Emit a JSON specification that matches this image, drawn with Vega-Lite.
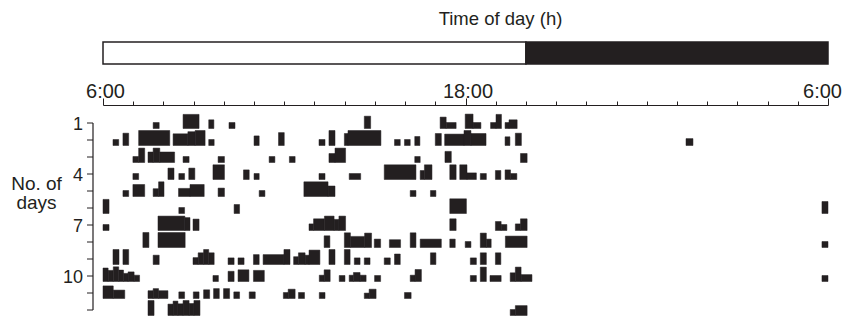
{
  "$schema": "https://vega.github.io/schema/vega-lite/v6.json",
  "padding": {"top": 9, "left": 10, "right": 2, "bottom": 0},
  "spacing": 15.5,
  "config": {
    "view": {"stroke": null},
    "font": "Liberation Sans",
    "axis": {"labelFont": "Liberation Sans", "titleFont": "Liberation Sans"}
  },
  "datasets": {
    "light": [
      {"phase": "Light", "start": 6, "end": 20},
      {"phase": "Dark", "start": 20, "end": 30}
    ],
    "activity": [
      {"day": 1, "start": 7.66, "end": 7.86, "act": 2},
      {"day": 1, "start": 8.65, "end": 9.18, "act": 4.7},
      {"day": 1, "start": 9.5, "end": 9.67, "act": 2.9},
      {"day": 1, "start": 10.17, "end": 10.37, "act": 2},
      {"day": 1, "start": 14.65, "end": 14.86, "act": 4.1},
      {"day": 1, "start": 17.16, "end": 17.36, "act": 3.8},
      {"day": 1, "start": 17.36, "end": 17.69, "act": 2},
      {"day": 1, "start": 17.99, "end": 18.25, "act": 4.8},
      {"day": 1, "start": 18.25, "end": 18.51, "act": 2},
      {"day": 1, "start": 18.83, "end": 19.01, "act": 2},
      {"day": 1, "start": 19.01, "end": 19.19, "act": 4.7},
      {"day": 1, "start": 19.31, "end": 19.44, "act": 2},
      {"day": 1, "start": 19.44, "end": 19.71, "act": 2.9},

      {"day": 2, "start": 6.33, "end": 6.52, "act": 2},
      {"day": 2, "start": 6.66, "end": 6.85, "act": 4.1},
      {"day": 2, "start": 7.18, "end": 8.21, "act": 5},
      {"day": 2, "start": 8.32, "end": 8.81, "act": 3.9},
      {"day": 2, "start": 8.81, "end": 9.05, "act": 4.6},
      {"day": 2, "start": 9.05, "end": 9.38, "act": 5},
      {"day": 2, "start": 9.5, "end": 9.68, "act": 2},
      {"day": 2, "start": 11.0, "end": 11.17, "act": 3.2},
      {"day": 2, "start": 11.81, "end": 12.0, "act": 4.3},
      {"day": 2, "start": 13.15, "end": 13.35, "act": 2},
      {"day": 2, "start": 13.48, "end": 13.68, "act": 5},
      {"day": 2, "start": 13.99, "end": 14.11, "act": 4},
      {"day": 2, "start": 14.11, "end": 15.2, "act": 5},
      {"day": 2, "start": 15.65, "end": 15.84, "act": 2},
      {"day": 2, "start": 15.98, "end": 16.17, "act": 2},
      {"day": 2, "start": 16.32, "end": 16.49, "act": 3},
      {"day": 2, "start": 17.0, "end": 17.2, "act": 4},
      {"day": 2, "start": 17.31, "end": 17.95, "act": 3.8},
      {"day": 2, "start": 17.95, "end": 18.18, "act": 5},
      {"day": 2, "start": 18.18, "end": 18.68, "act": 4},
      {"day": 2, "start": 19.31, "end": 19.47, "act": 2.9},
      {"day": 2, "start": 19.65, "end": 19.85, "act": 4.1},
      {"day": 2, "start": 25.3, "end": 25.53, "act": 2.3},

      {"day": 3, "start": 6.99, "end": 7.18, "act": 2},
      {"day": 3, "start": 7.18, "end": 7.38, "act": 4.8},
      {"day": 3, "start": 7.49, "end": 7.66, "act": 3.5},
      {"day": 3, "start": 7.66, "end": 7.88, "act": 4.8},
      {"day": 3, "start": 7.88, "end": 8.37, "act": 3.5},
      {"day": 3, "start": 8.65, "end": 8.85, "act": 2},
      {"day": 3, "start": 9.81, "end": 10.02, "act": 2},
      {"day": 3, "start": 11.5, "end": 11.69, "act": 2},
      {"day": 3, "start": 12.17, "end": 12.36, "act": 2},
      {"day": 3, "start": 13.48, "end": 13.68, "act": 3},
      {"day": 3, "start": 13.68, "end": 14.03, "act": 4.8},
      {"day": 3, "start": 16.32, "end": 16.5, "act": 2},
      {"day": 3, "start": 17.32, "end": 17.53, "act": 3.7},
      {"day": 3, "start": 19.82, "end": 20.04, "act": 3},

      {"day": 4, "start": 6.99, "end": 7.18, "act": 2},
      {"day": 4, "start": 8.15, "end": 8.35, "act": 3.8},
      {"day": 4, "start": 8.51, "end": 8.7, "act": 2},
      {"day": 4, "start": 8.84, "end": 9.04, "act": 3.8},
      {"day": 4, "start": 9.64, "end": 10.02, "act": 4.9},
      {"day": 4, "start": 10.65, "end": 10.84, "act": 3.2},
      {"day": 4, "start": 11.0, "end": 11.17, "act": 2},
      {"day": 4, "start": 13.15, "end": 13.35, "act": 2},
      {"day": 4, "start": 14.15, "end": 14.53, "act": 2},
      {"day": 4, "start": 15.31, "end": 16.36, "act": 4.9},
      {"day": 4, "start": 16.5, "end": 16.64, "act": 3},
      {"day": 4, "start": 16.64, "end": 16.89, "act": 4.9},
      {"day": 4, "start": 17.48, "end": 17.69, "act": 4.9},
      {"day": 4, "start": 17.81, "end": 18.05, "act": 4.9},
      {"day": 4, "start": 18.05, "end": 18.36, "act": 2.2},
      {"day": 4, "start": 18.49, "end": 18.69, "act": 2},
      {"day": 4, "start": 18.99, "end": 19.17, "act": 3},
      {"day": 4, "start": 19.31, "end": 19.49, "act": 3.2},
      {"day": 4, "start": 19.49, "end": 19.7, "act": 2},

      {"day": 5, "start": 6.66, "end": 6.85, "act": 2},
      {"day": 5, "start": 6.99, "end": 7.38, "act": 4},
      {"day": 5, "start": 7.66, "end": 7.84, "act": 2.6},
      {"day": 5, "start": 7.84, "end": 8.02, "act": 4.9},
      {"day": 5, "start": 8.5, "end": 8.88, "act": 2.7},
      {"day": 5, "start": 8.88, "end": 9.35, "act": 4},
      {"day": 5, "start": 9.81, "end": 10.02, "act": 2.8},
      {"day": 5, "start": 11.17, "end": 11.36, "act": 2},
      {"day": 5, "start": 12.65, "end": 13.45, "act": 4.9},
      {"day": 5, "start": 13.45, "end": 13.68, "act": 3.5},
      {"day": 5, "start": 16.17, "end": 16.36, "act": 2},
      {"day": 5, "start": 16.84, "end": 17.02, "act": 2},

      {"day": 6, "start": 6.0, "end": 6.2, "act": 4.7},
      {"day": 6, "start": 8.51, "end": 8.7, "act": 2},
      {"day": 6, "start": 10.34, "end": 10.52, "act": 3},
      {"day": 6, "start": 17.48, "end": 18.03, "act": 4.9},
      {"day": 6, "start": 29.8, "end": 30.0, "act": 4},

      {"day": 7, "start": 6.0, "end": 6.2, "act": 2},
      {"day": 7, "start": 7.82, "end": 8.71, "act": 4.8},
      {"day": 7, "start": 8.71, "end": 8.88, "act": 4.3},
      {"day": 7, "start": 8.98, "end": 9.18, "act": 3.8},
      {"day": 7, "start": 12.82, "end": 12.97, "act": 2.2},
      {"day": 7, "start": 12.97, "end": 13.33, "act": 3.9},
      {"day": 7, "start": 13.33, "end": 13.65, "act": 4.8},
      {"day": 7, "start": 13.65, "end": 13.81, "act": 3.7},
      {"day": 7, "start": 13.81, "end": 14.03, "act": 4.8},
      {"day": 7, "start": 17.48, "end": 17.69, "act": 3.9},
      {"day": 7, "start": 18.99, "end": 19.18, "act": 3},
      {"day": 7, "start": 19.18, "end": 19.37, "act": 2},
      {"day": 7, "start": 19.65, "end": 19.82, "act": 2.2},
      {"day": 7, "start": 19.82, "end": 20.04, "act": 3.9},

      {"day": 8, "start": 7.32, "end": 7.52, "act": 5},
      {"day": 8, "start": 7.82, "end": 8.72, "act": 5},
      {"day": 8, "start": 13.32, "end": 13.51, "act": 3.9},
      {"day": 8, "start": 13.99, "end": 14.19, "act": 4.9},
      {"day": 8, "start": 14.19, "end": 14.66, "act": 3.7},
      {"day": 8, "start": 14.66, "end": 14.89, "act": 4.8},
      {"day": 8, "start": 14.98, "end": 15.19, "act": 2.8},
      {"day": 8, "start": 15.48, "end": 15.85, "act": 2.6},
      {"day": 8, "start": 16.17, "end": 16.36, "act": 4.9},
      {"day": 8, "start": 16.5, "end": 17.2, "act": 2.8},
      {"day": 8, "start": 17.48, "end": 17.66, "act": 2.8},
      {"day": 8, "start": 17.99, "end": 18.18, "act": 2},
      {"day": 8, "start": 18.49, "end": 18.69, "act": 4.8},
      {"day": 8, "start": 18.69, "end": 18.85, "act": 2.8},
      {"day": 8, "start": 19.32, "end": 20.04, "act": 3.8},
      {"day": 8, "start": 29.8, "end": 30.0, "act": 2},

      {"day": 9, "start": 6.33, "end": 6.53, "act": 5},
      {"day": 9, "start": 6.66, "end": 6.85, "act": 5},
      {"day": 9, "start": 7.66, "end": 7.86, "act": 3.1},
      {"day": 9, "start": 8.98, "end": 9.15, "act": 2.3},
      {"day": 9, "start": 9.15, "end": 9.33, "act": 3.9},
      {"day": 9, "start": 9.33, "end": 9.5, "act": 5},
      {"day": 9, "start": 9.5, "end": 9.68, "act": 3.9},
      {"day": 9, "start": 10.14, "end": 10.34, "act": 2.2},
      {"day": 9, "start": 10.47, "end": 10.67, "act": 2.2},
      {"day": 9, "start": 10.98, "end": 11.17, "act": 3.3},
      {"day": 9, "start": 11.3, "end": 11.99, "act": 3.3},
      {"day": 9, "start": 11.99, "end": 12.19, "act": 5},
      {"day": 9, "start": 12.31, "end": 12.47, "act": 2.6},
      {"day": 9, "start": 12.47, "end": 12.69, "act": 3.9},
      {"day": 9, "start": 12.69, "end": 12.82, "act": 3.1},
      {"day": 9, "start": 12.82, "end": 13.18, "act": 4.8},
      {"day": 9, "start": 13.48, "end": 13.68, "act": 5},
      {"day": 9, "start": 13.99, "end": 14.18, "act": 5},
      {"day": 9, "start": 14.32, "end": 14.51, "act": 2.2},
      {"day": 9, "start": 14.65, "end": 14.84, "act": 2.2},
      {"day": 9, "start": 15.31, "end": 15.51, "act": 2.2},
      {"day": 9, "start": 15.65, "end": 15.84, "act": 3.5},
      {"day": 9, "start": 16.84, "end": 17.02, "act": 3.9},
      {"day": 9, "start": 18.16, "end": 18.36, "act": 2.2},
      {"day": 9, "start": 18.49, "end": 18.69, "act": 3.9},
      {"day": 9, "start": 18.99, "end": 19.17, "act": 3.9},

      {"day": 10, "start": 6.0, "end": 6.17, "act": 4.5},
      {"day": 10, "start": 6.17, "end": 6.34, "act": 3.7},
      {"day": 10, "start": 6.34, "end": 6.52, "act": 4.9},
      {"day": 10, "start": 6.52, "end": 6.68, "act": 3.8},
      {"day": 10, "start": 6.68, "end": 6.83, "act": 2.7},
      {"day": 10, "start": 6.83, "end": 7.03, "act": 3.2},
      {"day": 10, "start": 7.03, "end": 7.21, "act": 2.1},
      {"day": 10, "start": 9.64, "end": 9.82, "act": 2},
      {"day": 10, "start": 10.14, "end": 10.34, "act": 3.4},
      {"day": 10, "start": 10.47, "end": 10.83, "act": 3.9},
      {"day": 10, "start": 10.98, "end": 11.34, "act": 3.7},
      {"day": 10, "start": 13.16, "end": 13.32, "act": 2.1},
      {"day": 10, "start": 13.32, "end": 13.52, "act": 3.9},
      {"day": 10, "start": 13.82, "end": 14.01, "act": 2},
      {"day": 10, "start": 14.15, "end": 14.29, "act": 2.1},
      {"day": 10, "start": 14.29, "end": 14.51, "act": 3},
      {"day": 10, "start": 14.51, "end": 14.71, "act": 2.1},
      {"day": 10, "start": 14.99, "end": 15.19, "act": 2},
      {"day": 10, "start": 16.17, "end": 16.33, "act": 2.1},
      {"day": 10, "start": 16.33, "end": 16.54, "act": 4},
      {"day": 10, "start": 18.16, "end": 18.36, "act": 2},
      {"day": 10, "start": 18.49, "end": 18.69, "act": 4.8},
      {"day": 10, "start": 18.81, "end": 19.18, "act": 2},
      {"day": 10, "start": 19.48, "end": 19.65, "act": 2.9},
      {"day": 10, "start": 19.65, "end": 19.84, "act": 4.8},
      {"day": 10, "start": 19.84, "end": 20.2, "act": 2.3},
      {"day": 10, "start": 29.8, "end": 30.0, "act": 2},

      {"day": 11, "start": 6.0, "end": 6.34, "act": 4.2},
      {"day": 11, "start": 6.34, "end": 6.72, "act": 2.8},
      {"day": 11, "start": 7.49, "end": 7.66, "act": 2.6},
      {"day": 11, "start": 7.66, "end": 7.84, "act": 3.3},
      {"day": 11, "start": 7.84, "end": 8.15, "act": 2.6},
      {"day": 11, "start": 8.51, "end": 8.7, "act": 2.2},
      {"day": 11, "start": 8.99, "end": 9.18, "act": 2.2},
      {"day": 11, "start": 9.33, "end": 9.53, "act": 2.9},
      {"day": 11, "start": 9.66, "end": 9.85, "act": 3.3},
      {"day": 11, "start": 9.99, "end": 10.19, "act": 3.3},
      {"day": 11, "start": 10.33, "end": 10.52, "act": 2.2},
      {"day": 11, "start": 10.84, "end": 11.04, "act": 2.2},
      {"day": 11, "start": 11.97, "end": 12.13, "act": 2},
      {"day": 11, "start": 12.13, "end": 12.36, "act": 3.1},
      {"day": 11, "start": 12.47, "end": 12.67, "act": 2},
      {"day": 11, "start": 13.16, "end": 13.35, "act": 2},
      {"day": 11, "start": 14.65, "end": 14.81, "act": 1.8},
      {"day": 11, "start": 14.81, "end": 15.04, "act": 3.1},
      {"day": 11, "start": 15.98, "end": 16.2, "act": 2},

      {"day": 12, "start": 7.49, "end": 7.69, "act": 5},
      {"day": 12, "start": 8.15, "end": 8.32, "act": 3.8},
      {"day": 12, "start": 8.32, "end": 8.48, "act": 4.8},
      {"day": 12, "start": 8.48, "end": 8.65, "act": 3.9},
      {"day": 12, "start": 8.65, "end": 8.85, "act": 5},
      {"day": 12, "start": 8.85, "end": 9.01, "act": 4},
      {"day": 12, "start": 9.01, "end": 9.21, "act": 5},
      {"day": 12, "start": 19.48, "end": 19.65, "act": 2},
      {"day": 12, "start": 19.65, "end": 20.04, "act": 3.3}
    ]
  },
  "vconcat": [
    {
      "width": 725,
      "height": 22,
      "title": {"text": "Time of day (h)", "fontSize": 18.5, "font": "Liberation Sans", "fontWeight": "normal", "color": "#231f20", "anchor": "middle", "dx": 35, "offset": 13},
      "data": {"name": "light"},
      "mark": {"type": "rect", "stroke": "#231f20", "strokeWidth": 1.5},
      "encoding": {
        "x": {"field": "start", "type": "quantitative", "scale": {"domain": [6, 30], "nice": false, "zero": false}, "axis": null},
        "x2": {"field": "end"},
        "color": {"field": "phase", "type": "nominal", "scale": {"domain": ["Light", "Dark"], "range": ["#ffffff", "#231f20"]}, "legend": null}
      }
    },
    {
      "width": 725,
      "height": 187,
      "data": {"name": "activity"},
      "mark": {"type": "bar", "color": "#231f20", "stroke": "#231f20", "strokeWidth": 0.5, "yOffset": 6, "y2Offset": {"expr": "6 - 3*datum.act"}},
      "encoding": {
        "x": {
          "field": "start", "type": "quantitative",
          "scale": {"domain": [6, 30], "nice": false, "zero": false},
          "axis": {
            "orient": "top", "offset": 17.5, "title": null, "grid": false,
            "values": [6,7,8,9,10,11,12,13,14,15,16,17,18,19,20,21,22,23,24,25,26,27,28,29,30],
            "domainColor": "#231f20", "domainWidth": 1.2,
            "tickColor": "#231f20", "tickWidth": 1,
            "tickSize": {"condition": {"test": "datum.value == 6 || datum.value == 18 || datum.value == 30", "value": 7}, "value": 4},
            "labelExpr": "datum.value == 18 ? '18:00' : (datum.value == 6 || datum.value == 30) ? '6:00' : ''",
            "labelFontSize": 20, "labelColor": "#231f20", "labelPadding": 1,
            "labelBaseline": "alphabetic",
            "labelFlush": false, "labelOverlap": false,
            "labelOffset": {"condition": {"test": "datum.value == 30", "value": -6}, "value": 2}
          }
        },
        "x2": {"field": "end"},
        "y": {
          "field": "day", "type": "quantitative",
          "scale": {"domain": [1, 12], "reverse": true, "nice": false, "zero": false},
          "axis": {
            "orient": "left", "offset": 10.5, "grid": false,
            "values": [1,2,3,4,5,6,7,8,9,10,11,12],
            "domainColor": "#231f20", "domainWidth": 1.2,
            "tickColor": "#231f20", "tickWidth": 1, "tickSize": 6,
            "labelExpr": "(datum.value == 1 || datum.value == 4 || datum.value == 7 || datum.value == 10) ? datum.label : ''",
            "labelFontSize": 18, "labelColor": "#231f20", "labelPadding": 4, "labelOffset": 2,
            "labelOverlap": false, "labelFlush": false,
            "title": ["No. of", "days"], "titleAngle": 0, "titleAlign": "center", "titleBaseline": "alphabetic",
            "titleX": -56.5, "titleY": 67, "titleFontSize": 19, "titleFontWeight": "normal", "titleColor": "#231f20", "titleLineHeight": 19
          }
        },
        "y2": {"field": "day"}
      }
    }
  ]
}
